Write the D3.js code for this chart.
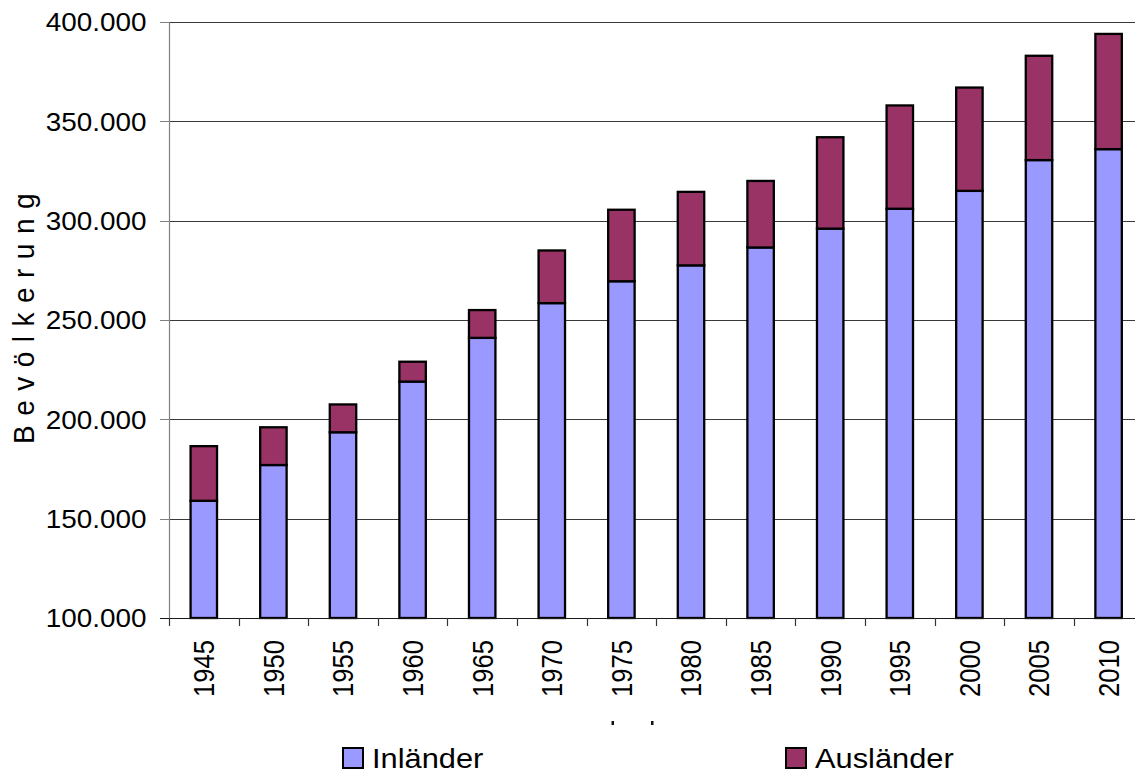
<!DOCTYPE html>
<html>
<head>
<meta charset="utf-8">
<script src="https://cdn.jsdelivr.net/npm/d3@7"></script>
<style>
  html, body { margin: 0; padding: 0; background: #fff; }
  svg { display: block; }
  text { font-family: "Liberation Sans", Arial, sans-serif; fill: #000; }
</style>
</head>
<body>
<svg id="chart" width="1135" height="773"></svg>
<script>
const years = ["1945","1950","1955","1960","1965","1970","1975","1980","1985","1990","1995","2000","2005","2010"];
const inlaender = [159000,177000,193500,219000,241000,258500,269500,277500,286500,296000,306000,315000,330500,336000];
const auslaender = [27500,19000,14000,10000,14000,26500,36000,37000,33500,46000,52000,52000,52500,58000];
const yTicks = [100000,150000,200000,250000,300000,350000,400000];
const seriesNames = ["Inländer","Ausländer"];
const seriesColors = ["#9999FF","#993366"];
const yTitle = "Bevölkerung";

(function () {
const svg = d3.select("#chart");
const pLeft = 169, pRight = 1143.4, pTop = 22, pBottom = 618;
const yMin = 100000, yMax = 400000;

const x = d3.scaleBand().domain(years).range([pLeft, pRight]).paddingInner(0.62).paddingOuter(0.31);
const y = d3.scaleLinear().domain([yMin, yMax]).range([pBottom, pTop]);
const step = x.step();
const fmt = v => d3.format(",")(v).replace(/,/g, ".");

// gridlines
svg.append("g").selectAll("line").data(yTicks.filter(t => t > yMin)).join("line")
  .attr("x1", pLeft).attr("x2", 1135)
  .attr("y1", d => Math.round(y(d)) + 0.5).attr("y2", d => Math.round(y(d)) + 0.5)
  .attr("stroke", "#3a3a3a").attr("stroke-width", 1);

// y axis
const yAxis = svg.append("g");
yAxis.append("line").attr("x1", pLeft + 0.5).attr("x2", pLeft + 0.5).attr("y1", pTop).attr("y2", pBottom)
  .attr("stroke", "#808080").attr("stroke-width", 1.2);
yAxis.selectAll("line.tk").data(yTicks).join("line").attr("class", "tk")
  .attr("x1", pLeft - 9).attr("x2", pLeft)
  .attr("y1", d => Math.round(y(d)) + 0.5).attr("y2", d => Math.round(y(d)) + 0.5)
  .attr("stroke", "#808080").attr("stroke-width", 1);
yAxis.selectAll("text").data(yTicks).join("text")
  .attr("transform", d => `translate(146.5,${y(d)}) scale(1.09,1)`)
  .attr("text-anchor", "end").attr("dy", "0.36em")
  .style("font-size", "25.6px")
  .text(d => fmt(d));

// y title
svg.append("text")
  .attr("transform", `translate(34,314) scale(1.03,1) rotate(-90)`)
  .attr("text-anchor", "middle")
  .style("font-size", "28px").style("letter-spacing", "9.5px")
  .text(yTitle);

// stacked bars
const stacked = d3.stack().keys([0, 1])(years.map((yr, i) => ({ year: yr, 0: inlaender[i], 1: auslaender[i] })));
const bars = svg.append("g");
stacked.forEach((layer, si) => {
  bars.append("g").selectAll("rect").data(layer).join("rect")
    .attr("x", d => x(d.data.year)).attr("width", x.bandwidth())
    .attr("y", d => y(d[1]))
    .attr("height", d => y(Math.max(d[0], yMin)) - y(d[1]))
    .attr("fill", seriesColors[si]).attr("stroke", "#000").attr("stroke-width", 2.3);
});

// x axis
const xAxis = svg.append("g");
xAxis.append("line").attr("x1", pLeft - 9).attr("x2", 1135).attr("y1", pBottom + 0.5).attr("y2", pBottom + 0.5)
  .attr("stroke", "#1a1a1a").attr("stroke-width", 1.2);
xAxis.selectAll("line.tk").data(years).join("line").attr("class", "tk")
  .attr("x1", d => Math.round(x(d) + x.bandwidth() / 2 - step / 2) + 0.5)
  .attr("x2", d => Math.round(x(d) + x.bandwidth() / 2 - step / 2) + 0.5)
  .attr("y1", pBottom).attr("y2", pBottom + 8)
  .attr("stroke", "#333").attr("stroke-width", 1.2);
xAxis.selectAll("text").data(years).join("text")
  .attr("transform", d => `translate(${x(d) + x.bandwidth() / 2},640) scale(1.13,1) rotate(-90)`)
  .attr("text-anchor", "end").attr("dy", "0.36em")
  .style("font-size", "25.6px")
  .text(d => d);

// clipped axis-title remnants
svg.append("rect").attr("x", 611.5).attr("y", 721).attr("width", 2.5).attr("height", 4).attr("fill", "#111");
svg.append("rect").attr("x", 651).attr("y", 721).attr("width", 2.5).attr("height", 4).attr("fill", "#111");

// legend
const legendX = [343, 786];
const legend = svg.append("g");
seriesNames.forEach((name, i) => {
  legend.append("rect").attr("x", legendX[i]).attr("y", 748).attr("width", 20).attr("height", 20)
    .attr("fill", seriesColors[i]).attr("stroke", "#000").attr("stroke-width", 2);
  legend.append("text")
    .attr("transform", `translate(${legendX[i] + 29},768) scale(1.1,1)`)
    .style("font-size", "28px")
    .text(name);
});
})();
</script>
</body>
</html>
